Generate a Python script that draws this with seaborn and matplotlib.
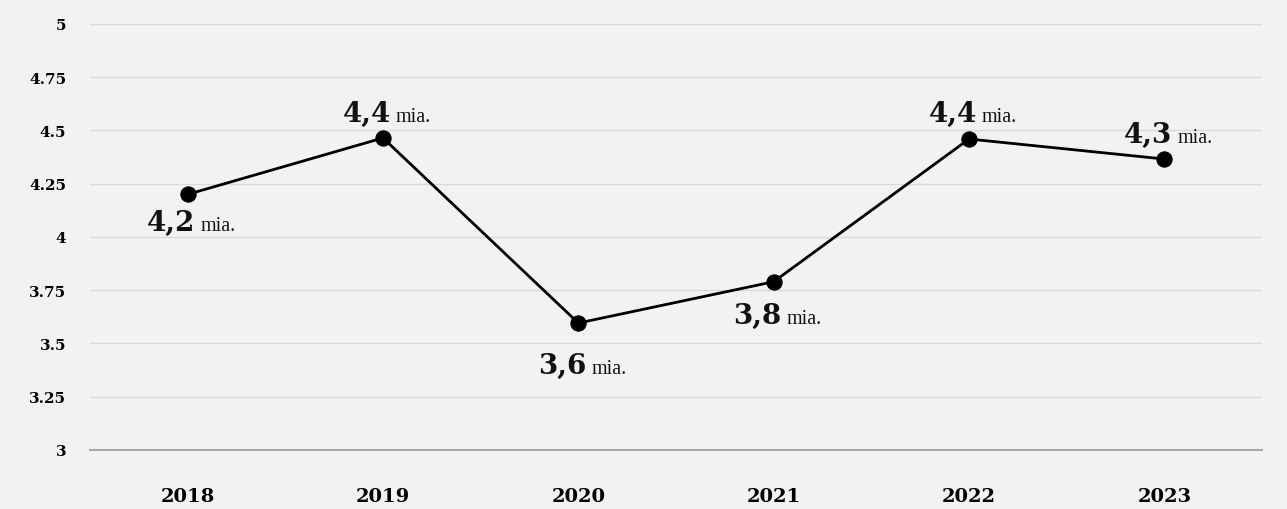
import matplotlib
matplotlib.use("Agg")
import matplotlib.pyplot as plt
import seaborn as sns
import pandas as pd

# data
years = ['2018', '2019', '2020', '2021', '2022', '2023']
values = [4.2, 4.465, 3.596, 3.79, 4.46, 4.366]
labels = ['4,2', '4,4', '3,6', '3,8', '4,4', '4,3']
# vertical offset of each label (pixels), negative = below the point
label_dy = [-36, 17, -50, -41, 18, 17]

df = pd.DataFrame({'year': years, 'value': values})

sns.set_theme(style='white')
plt.rcParams['font.family'] = ['DejaVu Serif']

fig = plt.figure(figsize=(12.87, 5.10), dpi=100, facecolor='#f2f2f2')
ax = fig.add_axes([0.0699, 0.1157, 0.9107, 0.8353])
ax.set_facecolor('#f2f2f2')

sns.lineplot(data=df, x='year', y='value', ax=ax, color='black', linewidth=2,
             marker='o', markersize=11, markeredgecolor='black', sort=False)

ax.set_ylim(3, 5)
ax.set_xlim(-0.5, len(years) - 0.5)
ax.set_yticks([3, 3.25, 3.5, 3.75, 4, 4.25, 4.5, 4.75, 5])
ax.set_yticklabels(['3', '3.25', '3.5', '3.75', '4', '4.25', '4.5', '4.75', '5'])
ax.grid(axis='y', color='#d9d9d9', linewidth=1)
ax.set_axisbelow(True)
for s in ['top', 'right', 'left']:
    ax.spines[s].set_visible(False)
ax.spines['bottom'].set_color('#a6a6a6')
ax.spines['bottom'].set_linewidth(1.5)
ax.tick_params(axis='y', length=0, pad=17, labelsize=11)
ax.tick_params(axis='x', length=0, pad=27, labelsize=14)
for t in ax.get_yticklabels() + ax.get_xticklabels():
    t.set_fontweight('bold')
    t.set_color('black')
ax.set_xlabel('')
ax.set_ylabel('')

# labels: big number + small "mia."
for i, (v, lab, dy) in enumerate(zip(values, labels, label_dy)):
    ax.annotate(lab, (i, v), xytext=(8, dy), textcoords='offset pixels',
                ha='right', va='baseline', fontsize=20, fontweight='bold',
                color='#111111')
    ax.annotate('mia.', (i, v), xytext=(13, dy), textcoords='offset pixels',
                ha='left', va='baseline', fontsize=14.5, family='Liberation Serif',
                color='#111111')

plt.savefig('out.png', dpi=100, facecolor='#f2f2f2')
plt.close()
